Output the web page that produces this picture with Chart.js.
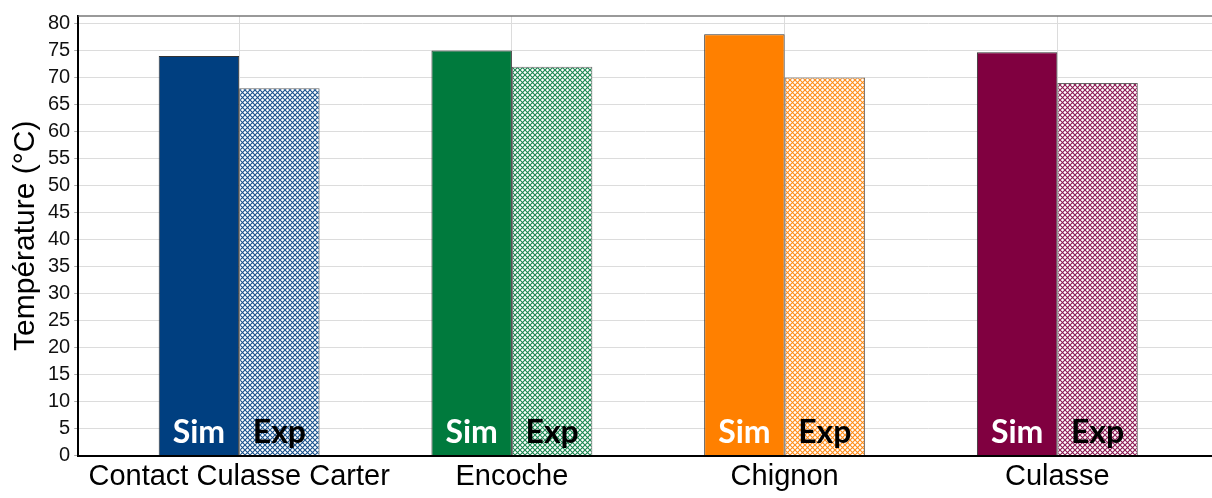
<!DOCTYPE html>
<html>
<head>
<meta charset="utf-8">
<script src="https://cdn.jsdelivr.net/npm/chart.js@4"></script>
<style>
  body { margin: 0; background: #fff; }
  canvas { display: block; }
</style>
</head>
<body>
<canvas id="tempChart" width="1212" height="498"></canvas>
<script>
let categories = ["Contact Culasse Carter", "Encoche", "Chignon", "Culasse"];
let simValues = [74, 75, 78, 74.7];
let expValues = [68, 72, 70, 69];
let barColors = ["#003f80", "#007a3d", "#ff8000", "#800040"];
let yTicks = [0, 5, 10, 15, 20, 25, 30, 35, 40, 45, 50, 55, 60, 65, 70, 75, 80];

// cross hatch pattern for the experimental bars
function hatch(color) {
    var c = document.createElement("canvas");
    c.width = 5;
    c.height = 5;
    var g = c.getContext("2d");
    g.fillStyle = "#fff";
    g.fillRect(0, 0, 5, 5);
    g.strokeStyle = color;
    g.globalAlpha = 0.9;
    g.lineWidth = 1.1;
    g.beginPath();
    g.moveTo(-1, -1); g.lineTo(6, 6);
    g.moveTo(-1, 6); g.lineTo(6, -1);
    g.stroke();
    return g.createPattern(c, "repeat");
}

var barText = {
    id: "barText",
    afterDatasetsDraw: function (chart) {
        var ctx = chart.ctx;
        var y0 = chart.scales.y.getPixelForValue(0);
        ctx.save();
        ctx.font = "bold 32px Lato";
        ctx.textAlign = "center";
        ctx.textBaseline = "alphabetic";
        chart.data.datasets.forEach(function (ds, di) {
            chart.getDatasetMeta(di).data.forEach(function (bar) {
                ctx.fillStyle = di === 0 ? "#fff" : "#000";
                ctx.fillText(ds.label, bar.x, y0 - 13);
            });
        });
        // top frame line
        ctx.strokeStyle = "#777";
        ctx.lineWidth = 1.5;
        ctx.beginPath();
        ctx.moveTo(chart.chartArea.left, chart.chartArea.top);
        ctx.lineTo(chart.chartArea.right, chart.chartArea.top);
        ctx.stroke();
        ctx.restore();
    }
};

var myChart = new Chart(document.getElementById("tempChart").getContext("2d"), {
    type: "bar",
    data: {
        datasets: [{
            label: "Sim",
            data: simValues.map(function (v, i) { return { x: i, y: v }; }),
            backgroundColor: barColors,
            borderColor: "#333",
            borderWidth: 1,
            categoryPercentage: 0.59,
            barPercentage: 1
        }, {
            label: "Exp",
            data: expValues.map(function (v, i) { return { x: i, y: v }; }),
            backgroundColor: barColors.map(hatch),
            borderColor: "#666",
            borderWidth: 1,
            categoryPercentage: 0.59,
            barPercentage: 1
        }]
    },
    options: {
        responsive: false,
        animation: false,
        layout: { padding: { top: 10, right: 0, left: 8, bottom: 0 } },
        plugins: {
            legend: { display: false },
            tooltip: { enabled: false }
        },
        scales: {
            x: {
                type: "linear",
                offset: false,
                min: -0.59,
                max: 3.567,
                afterBuildTicks: function (axis) {
                    axis.ticks = categories.map(function (c, i) { return { value: i }; });
                },
                ticks: {
                    color: "#000",
                    font: { family: "Liberation Sans", size: 29, lineHeight: 1.05 },
                    padding: 6,
                    maxRotation: 0,
                    autoSkip: false,
                    callback: function (v) { return categories[v]; }
                },
                grid: { color: "#dcdcdc", drawTicks: false, offset: false },
                border: { color: "#000", width: 2 }
            },
            y: {
                min: 0,
                max: 81.4,
                afterBuildTicks: function (axis) {
                    axis.ticks = yTicks.map(function (v) { return { value: v }; });
                },
                ticks: {
                    color: "#111",
                    font: { family: "Liberation Sans", size: 20 },
                    padding: 4
                },
                grid: { color: "#dcdcdc", tickColor: "#aaa", tickLength: 4 },
                border: { color: "#000", width: 2 },
                title: {
                    display: true,
                    text: "Température (°C)",
                    color: "#000",
                    font: { family: "Liberation Sans", size: 30 },
                    padding: { top: 0, bottom: 0 }
                }
            }
        }
    },
    plugins: [barText]
});
</script>
</body>
</html>
